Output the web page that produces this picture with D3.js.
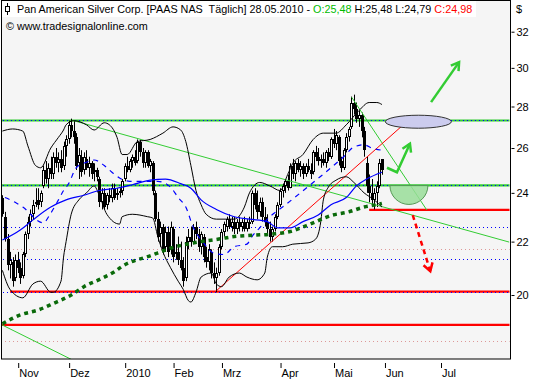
<!DOCTYPE html>
<html><head><meta charset="utf-8">
<script src="https://cdn.jsdelivr.net/npm/d3@7"></script>
<style>
body{margin:0;background:#fff}
svg{display:block}
text{font-family:"Liberation Sans",Arial,sans-serif;font-size:11px;fill:#000}
</style>
</head><body>
<svg id="c" width="534" height="380"></svg>
<script>
// ---------- DATA ----------
const firstDay = "2009-10-23";
const holidays = ["2009-11-26","2009-12-25","2010-01-01","2010-01-18","2010-02-15","2010-04-02","2010-05-31","2010-07-05"];
const tickDates  = ["2009-11-02","2009-12-01","2010-01-04","2010-02-01","2010-03-01","2010-04-01","2010-05-03","2010-06-01","2010-07-01"];
const tickLabels = ["Nov","Dez","2010","Feb","Mrz","Apr","Mai","Jun","Jul"];
const priceTicks = [20,22,24,26,28,30,32];

const opens  = [23.8,23.0,22.1,21.1,21.2,20.6,21.3,21.0,20.7,21.5,22.3,22.8,23.1,23.6,23.7,23.6,24.3,25.0,24.6,25.1,24.8,25.6,25.3,25.5,25.2,26.1,26.4,27.1,26.8,26.5,25.3,25.6,25.0,25.5,25.1,25.3,24.9,25.0,24.6,23.6,24.0,23.5,23.9,23.8,24.2,23.9,24.0,24.1,24.6,25.2,25.0,25.4,25.6,25.4,26.3,25.8,25.3,25.8,25.2,25.3,24.0,22.9,22.3,22.6,21.8,22.4,21.7,22.5,21.5,21.6,21.3,21.0,20.6,22.0,22.2,22.0,22.6,22.3,21.8,22.2,21.4,21.2,21.6,20.8,20.6,20.8,21.8,22.4,22.6,22.9,22.6,22.8,22.5,22.8,22.6,22.8,22.5,22.8,22.8,24.0,23.5,23.2,23.6,23.0,22.8,22.5,22.2,22.5,23.0,23.5,24.1,24.3,24.5,24.2,25.2,24.8,25.3,25.0,25.2,24.8,25.2,25.0,24.9,25.8,25.6,25.4,25.5,25.3,25.8,25.6,26.4,26.2,26.5,25.4,25.1,25.9,26.5,27.0,28.2,27.9,27.4,27.6,26.8,25.3,24.3,24.0,23.7,24.0,24.3,25.48];
const highs  = [23.9,23.2,22.3,21.6,21.4,21.5,21.6,21.2,21.6,22.4,23.0,23.3,23.7,24.2,24.2,24.1,25.2,25.4,25.3,25.6,25.8,26.0,25.8,25.9,26.3,26.6,27.3,27.4,27.3,26.7,26.0,25.9,25.8,25.9,25.6,25.4,25.3,25.1,24.7,24.2,24.2,24.0,24.2,24.4,24.4,24.2,24.2,24.6,25.3,25.6,25.5,25.7,25.9,26.4,26.4,26.0,25.9,25.9,25.5,25.4,24.1,23.2,22.8,22.7,22.6,22.6,22.8,22.6,21.9,22.2,22.0,21.4,22.2,22.5,22.6,22.7,22.8,22.5,22.4,22.3,21.8,21.9,21.7,21.2,21.0,21.9,22.5,22.8,23.0,23.1,23.0,23.0,22.9,23.0,22.9,23.0,22.9,23.0,24.1,24.2,24.1,23.8,23.8,23.4,23.1,22.8,22.6,23.1,23.6,24.2,24.4,24.6,24.8,25.3,25.5,25.4,25.5,25.4,25.3,25.3,25.5,25.3,25.9,26.1,26.0,25.7,25.8,25.9,26.0,26.5,26.9,26.8,26.6,25.6,26.0,26.7,27.0,28.5,28.6,28.2,27.8,27.7,27.0,25.6,24.8,24.6,24.2,24.5,25.5,25.48];
const lows   = [23.0,22.0,20.9,20.6,20.3,20.5,20.8,20.4,20.6,21.4,22.1,22.6,22.9,23.4,23.3,23.4,24.2,24.4,24.2,24.6,24.6,25.1,24.9,24.9,25.0,25.6,26.2,26.5,26.2,25.0,24.6,24.7,24.8,25.0,24.7,24.6,24.5,24.5,23.4,23.3,23.3,23.3,23.6,23.6,23.7,23.7,23.8,23.9,24.5,24.9,24.9,25.1,25.2,25.3,25.6,25.1,25.1,25.1,24.9,23.9,22.8,22.0,21.8,21.5,21.6,21.4,21.5,21.2,21.3,21.1,20.9,20.3,20.5,21.7,21.8,21.9,22.1,21.6,21.5,21.2,21.0,20.9,20.6,20.4,20.1,20.7,21.7,22.2,22.4,22.5,22.4,22.3,22.3,22.4,22.4,22.4,22.4,22.5,22.7,23.3,22.9,23.0,22.8,22.6,22.3,22.0,22.0,22.4,22.9,23.4,23.8,24.0,24.1,24.2,24.6,24.5,24.9,24.7,24.6,24.7,24.9,24.6,24.8,25.4,25.2,25.1,25.2,25.1,25.4,25.5,26.0,25.9,25.2,24.9,25.0,25.8,26.3,26.9,27.6,27.2,27.0,26.5,25.6,24.0,23.6,23.4,23.3,23.4,24.2,24.79];
const closes = [23.1,22.1,21.1,21.3,20.5,21.3,21.0,20.6,21.5,22.3,22.8,23.1,23.5,23.6,23.5,24.0,25.0,24.6,25.1,24.8,25.6,25.3,25.5,25.1,26.1,26.4,27.1,26.8,26.5,25.2,25.7,24.9,25.6,25.1,25.3,24.8,25.0,24.7,23.6,24.0,23.4,23.9,23.8,24.2,23.8,24.0,24.1,24.5,25.2,25.0,25.4,25.6,25.3,26.3,25.8,25.3,25.8,25.2,25.4,24.1,22.9,22.2,22.6,21.7,22.4,21.6,22.6,21.4,21.6,21.3,21.0,20.5,22.0,22.2,22.0,22.6,22.3,21.8,22.3,21.4,21.2,21.7,20.8,20.6,20.8,21.8,22.4,22.7,22.9,22.6,22.8,22.5,22.8,22.6,22.8,22.5,22.8,22.7,24.0,23.5,23.2,23.6,23.0,22.8,22.5,22.2,22.5,23.0,23.5,24.1,24.3,24.5,24.2,25.2,24.8,25.3,25.0,25.2,24.8,25.2,25.0,24.8,25.8,25.6,25.4,25.5,25.3,25.8,25.6,26.4,26.2,26.6,25.4,25.1,25.9,26.5,26.9,28.2,27.9,27.4,27.6,26.8,25.9,24.3,24.0,23.7,24.0,24.3,25.3,24.98];

// indicator curves: [trading-day number, price]
const bbUpper = [[0,26.8],[4,26.9],[8,26.8],[10,26.1],[13,25.2],[15,25.1],[19,26.0],[22,26.5],[24,26.85],[25,27.1],[28,27.3],[33,27.1],[36,26.85],[40,27.2],[42,27.1],[45,26.5],[47,25.7],[49,25.7],[53,26.3],[58,26.4],[63,26.7],[67,27.0],[70,26.85],[72,26.3],[74,25.2],[76,24.1],[78,23.5],[80,23.1],[84,22.9],[91,22.9],[95,23.4],[97,24.0],[101,24.45],[105,24.3],[109,24.1],[112,24.8],[114,25.3],[118,25.7],[122,26.4],[126,26.7],[131,26.7],[135,27.1],[140,27.8],[144,28.2],[147,28.2],[149,28.1]];
const bbLower = [[0,20.9],[3,20.2],[8,19.9],[12,20.4],[15,20.5],[19,20.1],[20,20.1],[23,20.5],[24,21.4],[25,22.0],[27,23.1],[30,23.7],[33,24.0],[36,24.3],[38,23.9],[41,23.1],[46,22.7],[47,23.0],[51,23.1],[57,23.0],[59,22.95],[61,22.2],[63,21.6],[66,21.0],[69,20.5],[71,20.2],[73,19.8],[74,19.75],[76,20.1],[78,20.65],[82,20.8],[84,20.4],[86,20.3],[89,20.65],[93,20.8],[96,20.65],[100,20.55],[103,20.8],[104,21.4],[106,21.8],[110,21.8],[114,21.9],[120,21.95],[123,22.1],[125,22.8],[126,23.7],[128,24.25],[131,24.55],[135,24.7],[138,24.45],[142,24.0],[146,23.7],[149,23.4]];
const ma20 = [[1,23.8],[5,23.6],[8,23.4],[16,22.75],[19,23.15],[22,23.7],[24,24.1],[26,24.4],[29,25.1],[33,25.35],[36,25.45],[40,25.2],[43,24.9],[46,24.65],[50,24.5],[54,24.5],[61,24.5],[66,24.25],[69,23.8],[72,23.4],[75,22.55],[79,21.95],[83,21.55],[87,21.5],[91,21.8],[96,21.9],[98,22.2],[101,22.55],[105,23.0],[110,23.4],[117,24.0],[122,24.45],[129,25.1],[134,25.6],[138,26.05],[142,26.15],[145,26.0],[149,25.9]];
const ma50 = [[0,22.06],[7,22.46],[12,22.87],[19,23.4],[25,23.7],[32,23.9],[38,24.1],[45,24.2],[51,24.35],[58,24.55],[64,24.6],[70,24.4],[74,24.2],[78,23.7],[84,23.3],[91,23.0],[97,22.9],[104,22.8],[108,22.55],[113,22.55],[118,22.8],[124,23.07],[129,23.5],[135,23.8],[139,24.3],[143,24.6],[149,24.9]];
const ma200 = [[0,19.0],[7,19.3],[14,19.47],[20,19.7],[27,20.0],[32,20.3],[39,20.6],[44,20.85],[47,21.05],[58,21.45],[68,21.8],[78,22.0],[85,22.1],[91,22.2],[98,22.25],[106,22.3],[113,22.4],[122,22.75],[129,23.05],[136,23.2],[142,23.4],[147,23.5],[149,23.55]];

// drawn levels and objects
const greenLevels = [27.31, 24.32];
const redLevels = [20.12, 18.96, 23.28];
const redLevelStart = [3, -1, 144];
const blueDotLevels = [27.31, 24.32, 22.59, 21.32, 20.12];
const pinkDotLevels = [21.70, 18.42];
const greenTrends = [[[28,27.3],[199,21.98]], [[-0.6,18.98],[30,17.71]], [[137.1,28.47],[166.6,23.28]]];
const redTrend = [[84.1,20.16],[159.2,27.3]];
const greenArrowUp = [[168.3,28.22],[179.3,30.31]];
const greenZigzag = [[151.0,25.1],[154.9,24.9],[160.0,26.2]];
const redArrowDown = [[161.1,23.07],[168.0,20.87]];
const ellipseCenter = [163.3,27.25];
const halfCircleCenter = [159.6,24.32];

// ---------- CALENDAR ----------
const parse = d3.utcParse("%Y-%m-%d"), fmt = d3.utcFormat("%Y-%m-%d");
const hol = new Set(holidays);
const tradingDays = [];
for (let d = parse(firstDay); tradingDays.length < 260; d = d3.utcDay.offset(d,1)) {
  const wd = d.getUTCDay();
  if (wd===0 || wd===6 || hol.has(fmt(d))) continue;
  tradingDays.push(fmt(d));
}
const barOf = s => tradingDays.indexOf(s);

// ---------- SCALES ----------
const W=534,H=380, L=1, R=510, T=0.5, B=359;
const x = d3.scaleLinear().domain([barOf("2009-11-02"), barOf("2010-07-01")]).range([17.7, 440.5]);
const y = d3.scaleLog().domain([17.841, 33.803]).range([359, 1]);

const svg = d3.select("#c");
svg.append("defs").append("clipPath").attr("id","pc").append("rect").attr("x",L+0.5).attr("y",1).attr("width",R-L-1).attr("height",B-1);
svg.append("rect").attr("x",L).attr("y",0).attr("width",R-L).attr("height",B).attr("fill","#f5f5f5");

const g = svg.append("g").attr("clip-path","url(#pc)");
const line = d3.line().x(d=>x(d[0])).y(d=>y(d[1]));
const curve = d3.line().x(d=>x(d[0])).y(d=>y(d[1])).curve(d3.curveMonotoneX);

// pink / blue dotted levels
pinkDotLevels.forEach(v=>g.append("line").attr("x1",L).attr("x2",R).attr("y1",Math.round(y(v))+0.5).attr("y2",Math.round(y(v))+0.5).attr("stroke","#d99").attr("stroke-dasharray","1,3"));
// red levels
redLevels.forEach((v,i)=>g.append("line").attr("x1",x(redLevelStart[i])).attr("x2",R).attr("y1",y(v)).attr("y2",y(v)).attr("stroke","#ff0000").attr("stroke-width",2.2));
// green levels
greenLevels.forEach(v=>g.append("line").attr("x1",L).attr("x2",R).attr("y1",y(v)).attr("y2",y(v)).attr("stroke","#33cc33").attr("stroke-width",2.2));
blueDotLevels.forEach(v=>g.append("line").attr("x1",L+2).attr("x2",R).attr("y1",Math.round(y(v))+0.5).attr("y2",Math.round(y(v))+0.5).attr("stroke","#0000ff").attr("stroke-dasharray","1,3"));

// candles
const candles = opens.map((o,i)=>({bar:i,o,h:highs[i],l:lows[i],c:closes[i]}));
const cg = g.append("g");
candles.forEach(d=>{
  const cx = Math.round(x(d.bar));
  cg.append("line").attr("x1",cx+0.5).attr("x2",cx+0.5).attr("y1",y(d.h)).attr("y2",y(d.l)).attr("stroke","#000");
  const top = Math.round(y(Math.max(d.o,d.c))), bot = Math.round(y(Math.min(d.o,d.c)));
  if (d.c < d.o) {
    cg.append("rect").attr("x",cx-1).attr("y",top).attr("width",3).attr("height",Math.max(1,bot-top)).attr("fill","#000");
  } else {
    cg.append("rect").attr("x",cx-0.5).attr("y",top+0.5).attr("width",2).attr("height",Math.max(1,bot-top-1)).attr("fill","#fff").attr("stroke","#000");
  }
});

// trend lines
greenTrends.forEach(t=>g.append("path").attr("d",line(t)).attr("fill","none").attr("stroke","#33cc33").attr("stroke-width",1));
g.append("path").attr("d",line(redTrend)).attr("fill","none").attr("stroke","#ff0000").attr("stroke-width",1);

// indicators
[bbUpper,bbLower].forEach(b=>g.append("path").attr("d",curve(b)).attr("fill","none").attr("stroke","#000").attr("stroke-width",1));
g.append("path").attr("d",curve(ma50)).attr("fill","none").attr("stroke","#0000ff").attr("stroke-width",1.2);
g.append("path").attr("d",curve(ma20)).attr("fill","none").attr("stroke","#0000ff").attr("stroke-width",1.2).attr("stroke-dasharray","5,5");
g.append("path").attr("d",curve(ma200)).attr("fill","none").attr("stroke","#0a6a0a").attr("stroke-width",3.5).attr("stroke-dasharray","4,4");

// shapes
const hc = [x(halfCircleCenter[0]), y(halfCircleCenter[1])], r = 19;
g.append("path").attr("d",`M${hc[0]-r},${hc[1]} A${r},${r} 0 0 0 ${hc[0]+r},${hc[1]} Z`).attr("fill","#99dd99").attr("fill-opacity",0.85).attr("stroke","#559955").attr("stroke-width",1);
g.append("ellipse").attr("cx",x(ellipseCenter[0])).attr("cy",y(ellipseCenter[1])).attr("rx",33).attr("ry",6.5).attr("fill","#ccccee").attr("stroke","#333").attr("stroke-width",1);

function arrow(pts, color, dash){
  const p = pts.map(d=>[x(d[0]),y(d[1])]);
  g.append("path").attr("d",d3.line()(p)).attr("fill","none").attr("stroke",color).attr("stroke-width",2.5).attr("stroke-dasharray",dash||null);
  const [a,b] = [p[p.length-2],p[p.length-1]];
  const ang = Math.atan2(b[1]-a[1],b[0]-a[0]), len=9, sp=0.55;
  const h1=[b[0]-len*Math.cos(ang-sp), b[1]-len*Math.sin(ang-sp)], h2=[b[0]-len*Math.cos(ang+sp), b[1]-len*Math.sin(ang+sp)];
  g.append("path").attr("d",d3.line()([h1,b,h2])).attr("fill","none").attr("stroke",color).attr("stroke-width",2.5);
}
arrow(greenArrowUp,"#33cc33");
arrow(greenZigzag,"#33cc33");
arrow(redArrowDown,"#ff0000","5,4");

// frame
svg.append("rect").attr("x",L+0.5).attr("y",0.5).attr("width",R-L).attr("height",B-0.5).attr("fill","none").attr("stroke","#000");

// axes
const ay = svg.append("g").attr("transform",`translate(${R+1.5},0)`).call(d3.axisRight(y).tickValues(priceTicks).tickFormat(d3.format("d")).tickSize(3).tickPadding(2));
ay.select(".domain").remove();
ay.selectAll("text").attr("font-family",null).attr("font-size",null);
const ax = svg.append("g").attr("transform",`translate(0,${B+4})`).call(d3.axisBottom(x).tickValues(tickDates.map(barOf)).tickFormat((d,i)=>tickLabels[i]).tickSize(5));
ax.select(".domain").remove();
ax.selectAll(".tick line").attr("transform","translate(0.5,0)");
ax.selectAll("text").attr("text-anchor","start").attr("x",1).attr("y",14).attr("dy",0).attr("font-family",null).attr("font-size",null);
svg.append("text").attr("x",516).attr("y",13).text("$");

// title
svg.append("rect").attr("x",2).attr("y",1).attr("width",474).attr("height",16).attr("fill","#fff");
const ic = svg.append("g");
ic.append("line").attr("x1",7.5).attr("x2",7.5).attr("y1",3).attr("y2",15).attr("stroke","#000");
ic.append("rect").attr("x",5.5).attr("y",6.5).attr("width",4).attr("height",5).attr("fill","#fff").attr("stroke","#000");
const t = svg.append("text").attr("x",17).attr("y",13);
t.append("tspan").text("Pan American Silver Corp. [PAAS NAS  Täglich] 28.05.2010 - ").attr("xml:space","preserve");
t.append("tspan").attr("fill","#00bb00").style("fill","#00bb00").text("O:25,48");
t.append("tspan").text(" H:25,48 L:24,79 ");
t.append("tspan").style("fill","#ff0000").text("C:24,98");
t.style("white-space","pre");
const tw = t.node().getComputedTextLength();
t.style("font-size",(11*456/tw)+"px");
const t2 = svg.append("text").attr("x",6).attr("y",30).text("© www.tradesignalonline.com");
const tw2 = t2.node().getComputedTextLength();
t2.style("font-size",(11*142/tw2)+"px");
</script>
</body></html>
